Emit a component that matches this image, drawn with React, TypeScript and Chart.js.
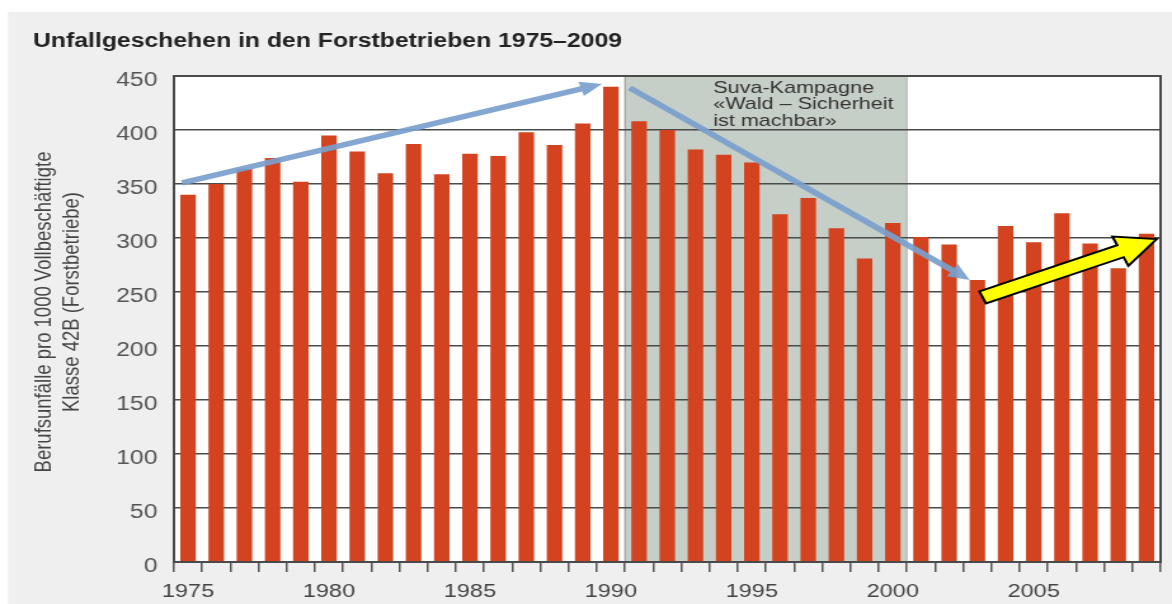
import React, { useEffect, useRef } from 'react';
import { Chart, registerables } from 'chart.js';

Chart.register(...registerables);

// ---- data ----
const years: string[] = [
  '1975', '1976', '1977', '1978', '1979', '1980', '1981', '1982', '1983', '1984',
  '1985', '1986', '1987', '1988', '1989', '1990', '1991', '1992', '1993', '1994',
  '1995', '1996', '1997', '1998', '1999', '2000', '2001', '2002', '2003', '2004',
  '2005', '2006', '2007', '2008', '2009',
];
const accidents: number[] = [
  340, 350, 364, 374, 352, 395, 380, 360, 387, 359,
  378, 376, 398, 386, 406, 440, 408, 400, 382, 377,
  370, 322, 337, 309, 281, 314, 301, 294, 261, 311,
  296, 323, 295, 272, 304,
];
const yMin = 0;
const yMax = 450;
const yStep = 50;
const labelEvery = 5;

const titleText = 'Unfallgeschehen in den Forstbetrieben 1975–2009';
const yTitleLines = ['Berufsunfälle pro 1000 Vollbeschäftigte', 'Klasse 42B (Forstbetriebe)'];

// campaign period (first and last year)
const campaignFirstYear = '1991';
const campaignLastYear = '2000';
const campaignLines = ['Suva-Kampagne', '«Wald – Sicherheit', 'ist machbar»'];

// trend arrows: [fromYear, fromValue, toYear, toValue]
const upArrow = [1974.79, 351, 1989.68, 442.6];
const downArrow = [1990.67, 439, 2002.73, 261];
const recentArrow = [2003.19, 245, 2009.36, 299];

// ---- rendering constants ----
const DISPLAY_W = 1172;
const DISPLAY_H = 604;
const STRETCH = 1.2698;
const CANVAS_W = Math.round(DISPLAY_W / STRETCH);
const FONT = "'Liberation Sans', Arial, Helvetica, sans-serif";

const firstYearNum = Number(years[0]);

function drawArrow(
  ctx: CanvasRenderingContext2D,
  x1: number, y1: number, x2: number, y2: number,
  shaftW: number, headW: number, headL: number,
  fill: string, stroke: string | null, lineW: number,
) {
  const ang = Math.atan2(y2 - y1, x2 - x1);
  const len = Math.hypot(x2 - x1, y2 - y1);
  ctx.save();
  ctx.translate(x1, y1);
  ctx.rotate(ang);
  ctx.beginPath();
  ctx.moveTo(0, -shaftW / 2);
  ctx.lineTo(len - headL, -shaftW / 2);
  ctx.lineTo(len - headL, -headW / 2);
  ctx.lineTo(len, 0);
  ctx.lineTo(len - headL, headW / 2);
  ctx.lineTo(len - headL, shaftW / 2);
  ctx.lineTo(0, shaftW / 2);
  ctx.closePath();
  ctx.fillStyle = fill;
  ctx.fill();
  if (stroke) {
    ctx.lineWidth = lineW;
    ctx.strokeStyle = stroke;
    ctx.lineJoin = 'miter';
    ctx.stroke();
  }
  ctx.restore();
}

const decorPlugin = {
  id: 'decor',
  beforeDraw(chart: any) {
    const { ctx, chartArea, scales } = chart;
    const x = scales.x;
    ctx.save();
    ctx.fillStyle = '#ffffff';
    ctx.fillRect(0, 0, chart.width, chart.height);
    ctx.fillStyle = '#efefef';
    ctx.fillRect(8 / STRETCH, 12, chart.width, chart.height);
    ctx.fillStyle = '#ffffff';
    ctx.fillRect(chartArea.left, chartArea.top, chartArea.right - chartArea.left, chartArea.bottom - chartArea.top);
    // campaign band
    const i0 = years.indexOf(campaignFirstYear) - 0.5;
    const i1 = years.indexOf(campaignLastYear) + 0.5;
    const bx0 = x.getPixelForValue(i0);
    const bx1 = x.getPixelForValue(i1);
    ctx.fillStyle = '#c6cfc7';
    ctx.fillRect(bx0, chartArea.top, bx1 - bx0, chartArea.bottom - chartArea.top);
    ctx.strokeStyle = '#8a938b';
    ctx.lineWidth = 1;
    ctx.beginPath();
    ctx.moveTo(bx0, chartArea.top);
    ctx.lineTo(bx0, chartArea.bottom);
    ctx.stroke();
    ctx.strokeStyle = '#aab3ab';
    ctx.beginPath();
    ctx.moveTo(bx1, chartArea.top);
    ctx.lineTo(bx1, chartArea.bottom);
    ctx.stroke();
    ctx.restore();
  },
  afterDatasetsDraw(chart: any) {
    const { ctx, chartArea, scales } = chart;
    const x = scales.x;
    const y = scales.y;
    ctx.save();
    // plot border
    ctx.strokeStyle = '#4a4a4a';
    ctx.lineWidth = 2;
    ctx.strokeRect(chartArea.left, chartArea.top, chartArea.right - chartArea.left, chartArea.bottom - chartArea.top);

    const px = (yr: number) => x.getPixelForValue(yr - firstYearNum);
    const py = (v: number) => y.getPixelForValue(v);

    // campaign text
    const i0 = years.indexOf(campaignFirstYear) - 0.5;
    const bx0 = x.getPixelForValue(i0);
    ctx.fillStyle = '#333333';
    ctx.font = `17px ${FONT}`;
    ctx.textAlign = 'left';
    ctx.textBaseline = 'alphabetic';
    campaignLines.forEach((t, i) => {
      ctx.fillText(t, bx0 + 69.5, chartArea.top + 17 + i * 16.3);
    });

    // arrows
    drawArrow(ctx, px(upArrow[0]), py(upArrow[1]), px(upArrow[2]), py(upArrow[3]), 5.5, 15, 17, 'rgba(120,160,205,0.92)', null, 0);
    drawArrow(ctx, px(downArrow[0]), py(downArrow[1]), px(downArrow[2]), py(downArrow[3]), 5.5, 15, 17, 'rgba(120,160,205,0.92)', null, 0);
    drawArrow(ctx, px(recentArrow[0]), py(recentArrow[1]), px(recentArrow[2]), py(recentArrow[3]), 13, 32, 31, '#ffff00', '#000000', 2);

    // title
    ctx.fillStyle = '#222222';
    ctx.font = `bold 19.5px ${FONT}`;
    ctx.textAlign = 'left';
    ctx.textBaseline = 'alphabetic';
    ctx.fillText(titleText, 26, 47);

    // y axis title
    ctx.fillStyle = '#444444';
    ctx.font = `18.5px ${FONT}`;
    ctx.textAlign = 'center';
    ctx.textBaseline = 'middle';
    const cys = [312, 302];
    const xs = [35.4, 56.7];
    yTitleLines.forEach((t, i) => {
      ctx.save();
      ctx.translate(xs[i], cys[i]);
      ctx.rotate(-Math.PI / 2);
      ctx.fillText(t, 0, 0);
      ctx.restore();
    });
    ctx.restore();
  },
};

export default function App() {
  const ref = useRef<HTMLCanvasElement | null>(null);
  useEffect(() => {
    if (!ref.current) return;
    const chart = new Chart(ref.current, {
      type: 'bar',
      data: {
        labels: years,
        datasets: [
          {
            data: accidents,
            backgroundColor: '#d3431f',
            borderWidth: 0,
            barPercentage: 0.55,
            categoryPercentage: 1,
          },
        ],
      },
      options: {
        responsive: false,
        devicePixelRatio: 1,
        animation: false,
        layout: { padding: { left: 0, right: 9, top: 76, bottom: 0 } },
        plugins: {
          legend: { display: false },
          tooltip: { enabled: false },
          title: { display: false },
        },
        scales: {
          x: {
            offset: true,
            grid: {
              display: true,
              offset: true,
              drawOnChartArea: false,
              drawTicks: true,
              tickLength: 10,
              color: '#555555',
              lineWidth: 1.5,
            },
            border: { display: true, color: '#4a4a4a', width: 2 },
            ticks: {
              autoSkip: false,
              maxRotation: 0,
              minRotation: 0,
              padding: 9,
              color: '#444444',
              font: { family: FONT, size: 18.5 },
              callback: (_v: any, i: number) => (Number(years[i]) % labelEvery === 0 ? years[i] : ''),
            },
            afterFit: (s: any) => {
              s.height = 42;
            },
          },
          y: {
            min: yMin,
            max: yMax,
            grid: { color: '#4a4a4a', lineWidth: 1.5, drawTicks: false },
            border: { display: true, color: '#4a4a4a', width: 2 },
            ticks: {
              stepSize: yStep,
              padding: 13,
              labelOffset: 5,
              color: '#555555',
              font: { family: FONT, size: 19.5 },
            },
            afterFit: (s: any) => {
              s.width = 137;
            },
          },
        },
      },
      plugins: [decorPlugin],
    } as any);
    return () => chart.destroy();
  }, []);

  return (
    <div style={{ position: 'absolute', left: 0, top: 0, width: DISPLAY_W, height: DISPLAY_H, background: '#ffffff', overflow: 'hidden' }}>
      <canvas
        ref={ref}
        width={CANVAS_W}
        height={DISPLAY_H}
        style={{ width: `${DISPLAY_W}px`, height: `${DISPLAY_H}px`, display: 'block' }}
      />
    </div>
  );
}
